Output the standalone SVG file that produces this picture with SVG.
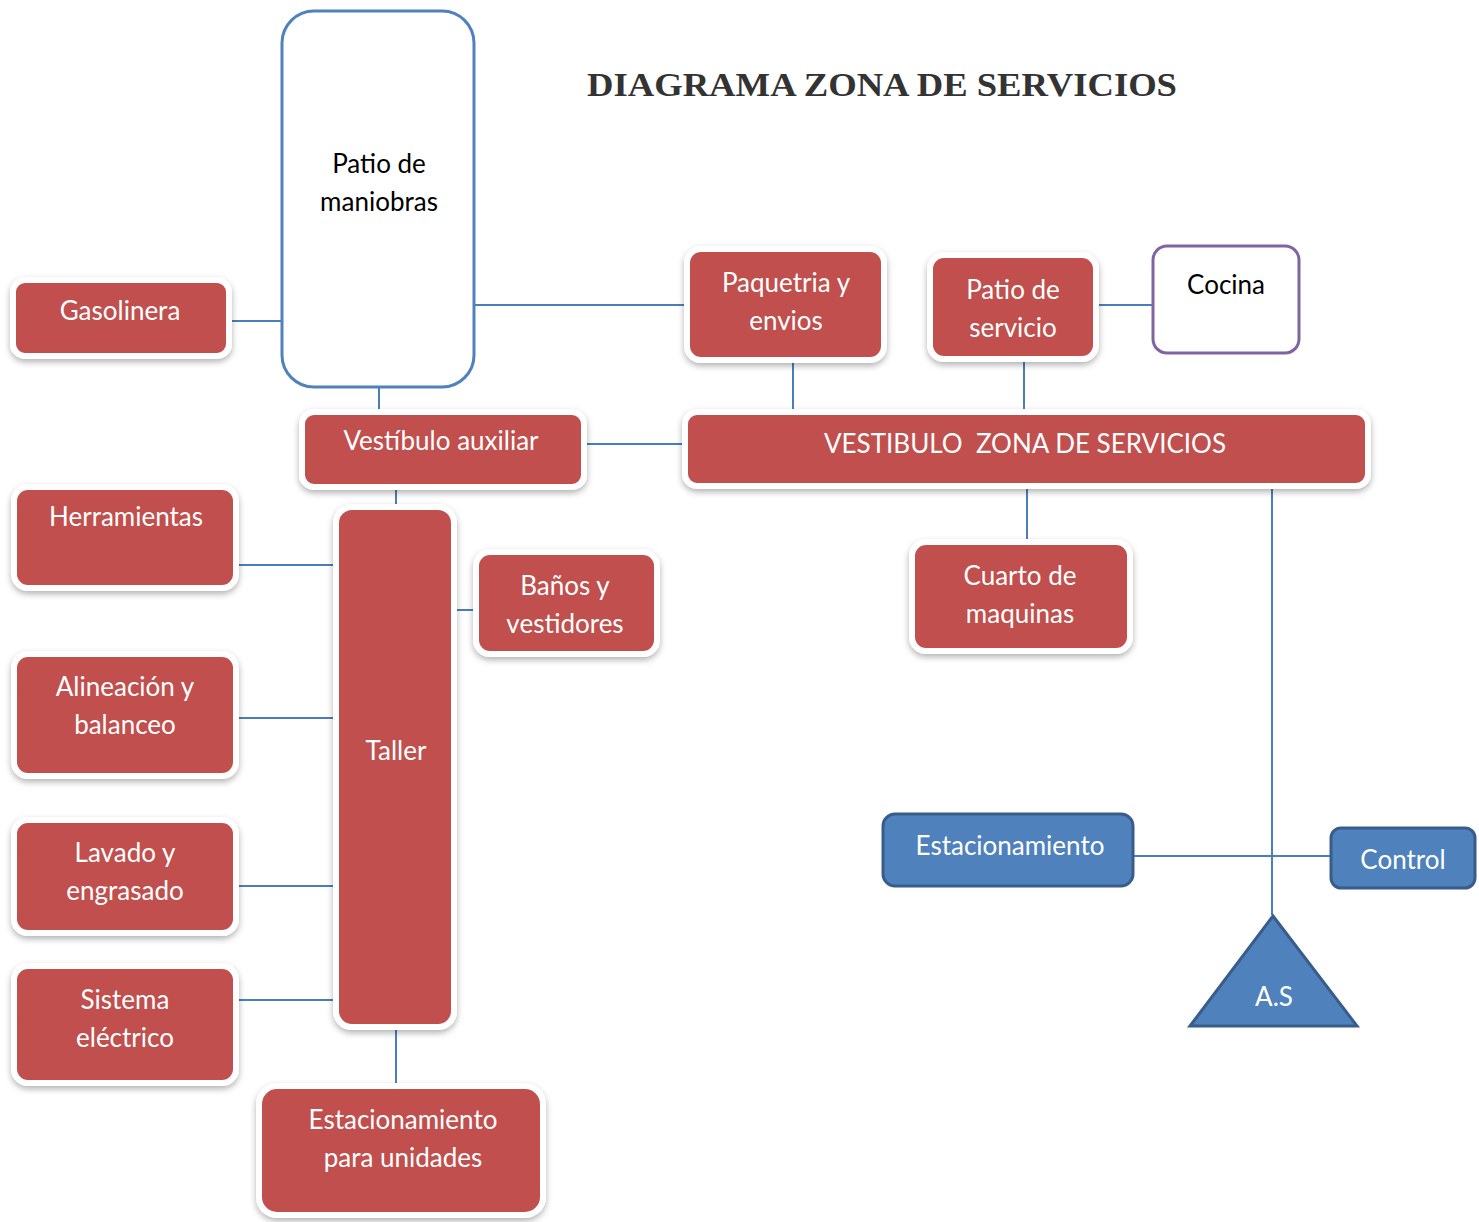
<svg xmlns="http://www.w3.org/2000/svg" width="1479" height="1222" viewBox="0 0 1479 1222">
<defs>
<filter id="sh" x="-10%" y="-10%" width="120%" height="130%">
<feDropShadow dx="0" dy="3" stdDeviation="3" flood-color="#000" flood-opacity="0.3"/>
</filter>
</defs>
<style>
.red{fill:#C0504D;stroke:#fff;stroke-width:6;filter:url(#sh)}
.blue{fill:#4F81BD;stroke:#385D8A;stroke-width:3}
.wt{fill:#fff;font-family:Lato,"Liberation Sans",sans-serif;font-size:26px;text-anchor:middle;white-space:pre}
.bt{fill:#000;font-family:Lato,"Liberation Sans",sans-serif;font-size:26px;text-anchor:middle}
.ln{stroke:#4A7EBB;stroke-width:2;fill:none}
</style>
<rect width="1479" height="1222" fill="#fff"/>
<text x="882" y="96" font-family="'Liberation Serif',serif" font-size="33" font-weight="bold" textLength="590" lengthAdjust="spacingAndGlyphs" text-anchor="middle" fill="#333">DIAGRAMA ZONA DE SERVICIOS</text>
<g id="connectors">
<line class="ln" x1="226" y1="321" x2="282" y2="321"/>
<line class="ln" x1="474" y1="305" x2="690" y2="305"/>
<line class="ln" x1="379" y1="387" x2="379" y2="432"/>
<line class="ln" x1="584" y1="444" x2="688" y2="444"/>
<line class="ln" x1="793" y1="357" x2="793" y2="411"/>
<line class="ln" x1="1024" y1="356" x2="1024" y2="411"/>
<line class="ln" x1="1097" y1="305" x2="1153" y2="305"/>
<line class="ln" x1="1027" y1="487" x2="1027" y2="542"/>
<line class="ln" x1="1272" y1="487" x2="1272" y2="915"/>
<line class="ln" x1="1133" y1="856" x2="1331" y2="856"/>
<line class="ln" x1="396" y1="487" x2="396" y2="507"/>
<line class="ln" x1="236" y1="565" x2="337" y2="565"/>
<line class="ln" x1="455" y1="610" x2="476" y2="610"/>
<line class="ln" x1="238" y1="718" x2="339" y2="718"/>
<line class="ln" x1="238" y1="886" x2="339" y2="886"/>
<line class="ln" x1="238" y1="1000" x2="339" y2="1000"/>
<line class="ln" x1="396" y1="1027" x2="396" y2="1084"/>
</g>
<g id="patio-maniobras"><rect x="282" y="11" width="192" height="376" rx="32" fill="#fff" stroke="#4F81BD" stroke-width="3"/><text class="bt" x="379" y="173">Patio de</text><text class="bt" x="379" y="211">maniobras</text></g>
<g id="gasolinera"><rect class="red" x="13" y="280" width="216" height="76" rx="12"/><text class="wt" x="120" y="320">Gasolinera</text></g>
<g id="vestibulo-auxiliar"><rect class="red" x="302" y="412" width="282" height="75" rx="12"/><text class="wt" x="441" y="450">Vestíbulo auxiliar</text></g>
<g id="paquetria"><rect class="red" x="687" y="249" width="197" height="111" rx="14"/><text class="wt" x="786" y="292">Paquetria y</text><text class="wt" x="786" y="330">envios</text></g>
<g id="patio-servicio"><rect class="red" x="930" y="255" width="166" height="104" rx="14"/><text class="wt" x="1013" y="299">Patio de</text><text class="wt" x="1013" y="337">servicio</text></g>
<g id="cocina"><rect x="1153" y="246" width="146" height="107" rx="14" fill="#fff" stroke="#8064A2" stroke-width="3"/><text class="bt" x="1226" y="294">Cocina</text></g>
<g id="vestibulo-zona"><rect class="red" x="685" y="412" width="683" height="74" rx="12"/><text class="wt" x="1025" y="453" xml:space="preserve">VESTIBULO  ZONA DE SERVICIOS</text></g>
<g id="herramientas"><rect class="red" x="14" y="487" width="222" height="101" rx="14"/><text class="wt" x="126" y="526">Herramientas</text></g>
<g id="taller"><rect class="red" x="336" y="507" width="118" height="520" rx="16"/><text class="wt" x="396" y="760">Taller</text></g>
<g id="banos"><rect class="red" x="476" y="552" width="181" height="102" rx="14"/><text class="wt" x="565" y="595">Baños y</text><text class="wt" x="565" y="633">vestidores</text></g>
<g id="alineacion"><rect class="red" x="14" y="654" width="222" height="122" rx="14"/><text class="wt" x="125" y="696">Alineación y</text><text class="wt" x="125" y="734">balanceo</text></g>
<g id="lavado"><rect class="red" x="14" y="820" width="222" height="113" rx="14"/><text class="wt" x="125" y="862">Lavado y</text><text class="wt" x="125" y="900">engrasado</text></g>
<g id="sistema"><rect class="red" x="14" y="966" width="222" height="117" rx="14"/><text class="wt" x="125" y="1009">Sistema</text><text class="wt" x="125" y="1047">eléctrico</text></g>
<g id="estac-unidades"><rect class="red" x="259" y="1086" width="284" height="129" rx="18"/><text class="wt" x="403" y="1129">Estacionamiento</text><text class="wt" x="403" y="1167">para unidades</text></g>
<g id="cuarto-maquinas"><rect class="red" x="912" y="542" width="218" height="109" rx="14"/><text class="wt" x="1020" y="585">Cuarto de</text><text class="wt" x="1020" y="623">maquinas</text></g>
<g id="estacionamiento"><rect class="blue" x="883" y="814" width="250" height="72" rx="12"/><text class="wt" x="1010" y="855">Estacionamiento</text></g>
<g id="control"><rect class="blue" x="1331" y="828" width="144" height="60" rx="10"/><text class="wt" x="1403" y="869">Control</text></g>
<g id="as"><polygon class="blue" points="1273,916 1357,1026 1190,1026"/><text class="wt" x="1274" y="1006">A.S</text></g>
</svg>
